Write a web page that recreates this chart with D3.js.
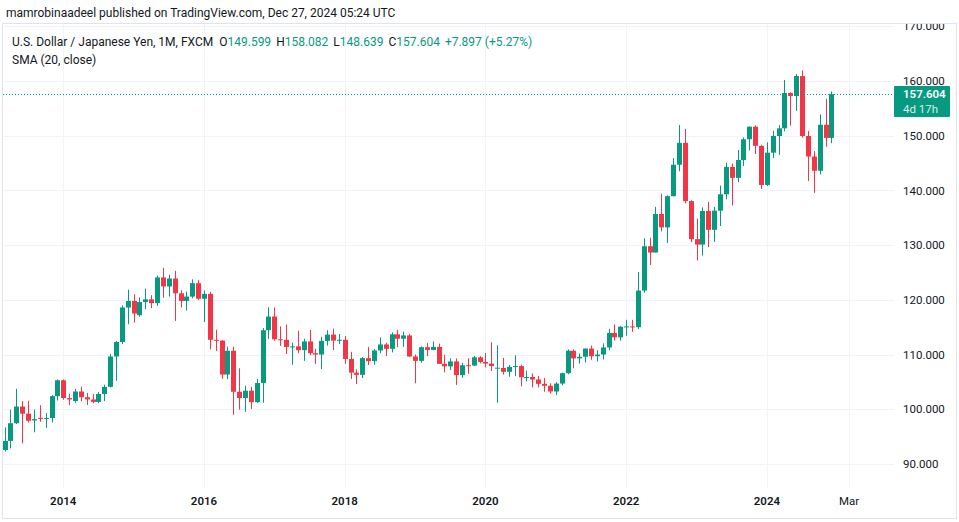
<!DOCTYPE html>
<html><head><meta charset="utf-8">
<script src="https://cdn.jsdelivr.net/npm/d3@7"></script>
<style>
body{margin:0;background:#fff;}
svg{display:block;font-family:Roboto,"Open Sans",sans-serif;}
</style>
</head><body><svg id="c" width="959" height="522"></svg>
<script>
// ---- data: USD/JPY monthly candles, FXCM, Mar 2013 .. Dec 2024 ----
const startYear = 2013, startMonth = 3;
const opens = [
 92.55,94.22,97.45,100.50,99.20,97.95,98.45,98.25,98.40,102.40,
 105.30,102.05,101.50,103.25,102.20,101.80,101.35,102.80,104.10,109.65,112.30,118.60,
 119.80,117.20,119.60,120.10,119.40,124.10,122.45,123.90,121.20,119.80,120.60,123.05,
 120.20,121.10,112.70,112.55,106.35,110.70,103.20,102.05,103.40,101.30,104.80,114.45,
 116.95,112.80,112.70,111.40,111.50,110.80,112.40,110.25,110.00,112.50,113.65,112.55,
 112.70,109.20,106.70,106.30,109.35,108.80,110.75,111.85,111.05,113.70,112.90,113.50,
 109.65,108.85,111.35,110.85,111.40,108.30,107.85,108.75,106.25,108.05,108.00,109.50,
 108.65,108.35,107.50,107.55,106.85,107.75,107.90,105.85,105.90,105.45,104.65,104.30,
 103.25,104.70,106.60,110.70,109.30,109.60,111.10,109.70,110.00,111.30,113.95,113.15,
 115.10,115.15,115.00,121.70,129.80,128.65,135.70,133.25,138.95,144.70,148.70,138.05,
 131.10,130.10,136.25,132.80,136.30,139.30,144.30,142.30,145.55,149.35,151.65,148.15,
 141.00,146.90,149.95,151.35,157.80,157.25,160.90,149.95,146.20,143.60,152.00,149.60
];
const highs = [
 96.71,99.95,103.74,101.50,101.55,99.95,100.75,99.30,102.60,105.45,
 105.45,102.85,103.75,104.15,103.00,102.80,103.15,104.50,110.10,112.50,118.98,121.85,
 121.00,120.45,122.05,120.85,124.45,125.85,124.60,125.30,121.75,121.50,123.75,123.60,
 121.70,121.50,114.55,112.65,111.45,111.45,107.50,104.30,104.10,105.55,114.85,118.65,
 118.60,115.15,115.50,112.20,114.35,112.90,114.50,111.05,113.25,114.45,114.75,113.75,
 113.40,110.50,107.30,109.55,111.40,111.00,113.15,112.15,114.05,114.55,114.20,113.80,
 110.00,111.50,112.15,112.40,112.00,109.95,109.30,109.30,108.50,109.30,109.75,109.70,
 110.30,112.25,111.70,109.40,108.10,109.85,108.15,107.05,106.55,106.10,105.70,104.75,
 104.95,106.70,110.95,110.95,110.20,111.10,111.65,110.80,112.05,114.70,115.50,115.20,
 116.35,116.35,125.10,131.25,131.35,137.00,139.40,139.10,145.90,151.95,151.25,138.20,
 134.80,136.90,137.90,137.00,140.90,145.05,144.90,147.40,149.70,151.70,151.90,148.35,
 148.80,150.90,151.95,160.20,157.95,161.25,161.95,150.85,147.20,153.90,156.75,158.08
];
const lows = [
 92.30,92.85,97.30,93.80,97.60,95.80,97.70,96.60,97.60,101.60,
 101.75,100.75,101.20,101.45,100.80,101.10,101.10,101.50,104.00,105.20,111.90,115.55,
 115.85,116.90,118.30,118.50,118.90,120.40,120.60,116.15,118.60,118.05,120.30,119.95,
 115.95,110.95,110.65,105.55,105.50,99.00,99.95,99.55,100.05,101.20,101.20,112.85,
 112.55,111.60,110.10,108.15,110.25,108.85,109.90,108.30,107.35,111.65,110.85,111.95,
 108.30,105.55,104.65,105.70,108.10,108.15,110.25,109.75,110.40,111.35,111.40,109.55,
 104.75,108.50,109.70,110.80,108.30,106.75,107.20,104.45,105.75,106.50,107.90,108.40,
 107.65,107.00,101.20,106.35,105.95,106.05,104.20,105.10,104.00,104.00,103.20,102.85,
 102.60,104.40,106.40,107.50,108.35,108.55,109.05,108.75,109.10,110.80,112.55,112.55,
 113.45,114.15,114.65,121.30,126.35,128.65,132.50,130.40,138.90,143.50,137.65,130.55,
 127.20,128.10,129.65,130.60,133.50,138.40,137.25,141.50,144.45,147.30,146.65,140.25,
 140.80,145.90,146.50,150.80,151.85,154.55,149.65,141.70,139.55,142.95,148.00,148.64
];
const closes = [
 94.22,97.45,100.50,99.20,97.90,98.20,98.25,98.40,102.40,105.30,
 102.05,101.80,103.25,102.20,101.80,101.35,102.80,104.10,109.65,112.30,118.60,119.80,
 117.50,119.60,120.10,119.40,124.10,122.45,123.90,121.20,119.80,120.60,123.05,120.20,
 121.10,112.70,112.55,106.35,110.70,103.20,102.05,103.40,101.30,104.80,114.45,116.95,
 112.80,112.70,111.40,111.50,110.80,112.40,110.25,110.00,112.50,113.65,112.55,112.70,
 109.20,106.70,106.30,109.35,108.80,110.75,111.85,111.05,113.70,112.90,113.50,109.65,
 108.85,111.35,110.85,111.40,108.30,107.85,108.75,106.25,108.05,108.00,109.50,108.65,
 108.35,107.90,107.60,106.85,107.75,107.90,105.85,105.90,105.45,104.65,104.30,103.25,
 104.70,106.60,110.70,109.30,109.60,111.10,109.70,110.00,111.30,113.95,113.15,115.10,
 115.15,115.00,121.70,129.80,128.65,135.70,133.25,138.95,144.70,148.70,138.05,131.10,
 130.10,136.25,132.80,136.30,139.30,144.30,142.30,145.55,149.35,151.65,148.15,141.00,
 146.90,149.95,151.35,157.80,157.25,160.90,149.95,146.20,143.60,152.00,149.60,157.604
];
const priceTicks = [90,100,110,120,130,140,150,160,170];
const timeTickLabels = ["2014","2016","2018","2020","2022","2024","Mar"];
const timeTickDates  = ["2014-01","2016-01","2018-01","2020-01","2022-01","2024-01","2025-03"];
const lastPrice = 157.604;
const countdown = "4d 17h";
const headerText = "mamrobinaadeel published on TradingView.com, Dec 27, 2024 05:24 UTC";
const symbolTitle = "U.S. Dollar / Japanese Yen, 1M, FXCM";
const ohlcLegend = [["O","149.599"],["H","158.082"],["L","148.639"],["C","157.604"]];
const changeText = "+7.897 (+5.27%)";
const indicatorTitle = "SMA (20, close)";

// ---- drawing ----
const W = 959, H = 522;
const UP = "#089981", DOWN = "#f23645", GRID = "#f0f3fa", TEXT = "#131722";
const pane = {left: 3, right: 894, top: 24, bottom: 488};
const svg = d3.select("#c");

const monthIndex = s => { const [yy,m] = s.split("-").map(Number); return (yy-startYear)*12 + (m-startMonth); };
const x = d3.scaleLinear().domain([0, closes.length-1]).range([4.6, 831.4]);
const y = d3.scaleLinear().domain([90,160]).range([464, 81]);

const candles = closes.map((c,i)=>({i, o:opens[i], h:highs[i], l:lows[i], c}));

svg.append("rect").attr("width",W).attr("height",H).attr("fill","#fff");

const defs = svg.append("defs");
defs.append("clipPath").attr("id","paneClip").append("rect")
  .attr("x",pane.left).attr("y",pane.top).attr("width",pane.right-pane.left).attr("height",pane.bottom-pane.top);
defs.append("clipPath").attr("id","axisClip").append("rect")
  .attr("x",pane.right).attr("y",pane.top).attr("width",W-pane.right).attr("height",pane.bottom-pane.top);

const gPane = svg.append("g").attr("clip-path","url(#paneClip)");
gPane.selectAll("line.hg").data(priceTicks).join("line")
  .attr("x1",pane.left).attr("x2",pane.right)
  .attr("y1",d=>Math.round(y(d))+0.5).attr("y2",d=>Math.round(y(d))+0.5)
  .attr("stroke",GRID).attr("stroke-width",1);
gPane.selectAll("line.vg").data(timeTickDates).join("line")
  .attr("x1",d=>Math.round(x(monthIndex(d)))+0.5).attr("x2",d=>Math.round(x(monthIndex(d)))+0.5)
  .attr("y1",pane.top).attr("y2",pane.bottom)
  .attr("stroke",GRID).attr("stroke-width",1);

const gC = gPane.append("g");
gC.selectAll("rect.wick").data(candles).join("rect")
  .attr("x",d=>Math.round(x(d.i)))
  .attr("width",1)
  .attr("y",d=>y(d.h)).attr("height",d=>Math.max(1,y(d.l)-y(d.h)))
  .attr("fill",d=>d.c>=d.o?UP:DOWN);
gC.selectAll("rect.body").data(candles).join("rect")
  .attr("x",d=>Math.round(x(d.i))-2)
  .attr("width",5)
  .attr("y",d=>y(Math.max(d.o,d.c)))
  .attr("height",d=>Math.max(1,Math.abs(y(d.o)-y(d.c))))
  .attr("fill",d=>d.c>=d.o?UP:DOWN);

gPane.append("line")
  .attr("x1",pane.left).attr("x2",pane.right)
  .attr("y1",Math.round(y(lastPrice))+0.5).attr("y2",Math.round(y(lastPrice))+0.5)
  .attr("stroke",UP).attr("stroke-width",1).attr("stroke-dasharray","1,2");

const gA = svg.append("g").attr("clip-path","url(#axisClip)");
gA.selectAll("text").data(priceTicks).join("text")
  .attr("x",903).attr("y",d=>y(d)).attr("dy","0.36em")
  .attr("font-size",11.5).attr("fill",TEXT)
  .text(d=>d3.format(".3f")(d));

const ly = y(lastPrice);
svg.append("rect").attr("x",894).attr("y",Math.round(ly)-8).attr("width",56).attr("height",31)
  .attr("fill",UP).attr("rx",1);
svg.append("text").attr("x",903).attr("y",ly).attr("dy","0.36em")
  .attr("font-size",11.5).attr("font-weight",600).attr("fill","#fff").text(d3.format(".3f")(lastPrice));
svg.append("text").attr("x",903).attr("y",ly+15).attr("dy","0.36em")
  .attr("font-size",11.5).attr("fill","#fff").attr("fill-opacity",0.85).text(countdown);

svg.selectAll("text.tl").data(timeTickLabels).join("text")
  .attr("x",(d,i)=>x(monthIndex(timeTickDates[i])))
  .attr("y",501).attr("dy","0.36em").attr("text-anchor","middle")
  .attr("font-size",11.5).attr("font-weight",(d,i)=>/^\d{4}$/.test(d)?600:400)
  .attr("fill",TEXT).text(d=>d);

svg.append("rect").attr("x",2.5).attr("y",pane.top-0.5).attr("width",W-5).attr("height",H-pane.top-3)
  .attr("fill","none").attr("stroke","#e0e3eb");

svg.append("text").attr("x",6).attr("y",13).attr("dy","0.36em").attr("font-size",12)
  .attr("fill",TEXT).text(headerText);

const lg = svg.append("text").attr("x",12).attr("y",42).attr("dy","0.36em").attr("font-size",12).attr("fill",TEXT);
lg.append("tspan").text(symbolTitle);
ohlcLegend.forEach(([k,v],j)=>{
  lg.append("tspan").attr("dx", j===0?6:5).attr("fill",TEXT).text(k);
  lg.append("tspan").attr("fill",UP).text(v);
});
lg.append("tspan").attr("dx",5).attr("fill",UP).text(changeText);
svg.append("text").attr("x",12).attr("y",60).attr("dy","0.36em").attr("font-size",12).attr("fill",TEXT).text(indicatorTitle);
</script>
</body></html>
